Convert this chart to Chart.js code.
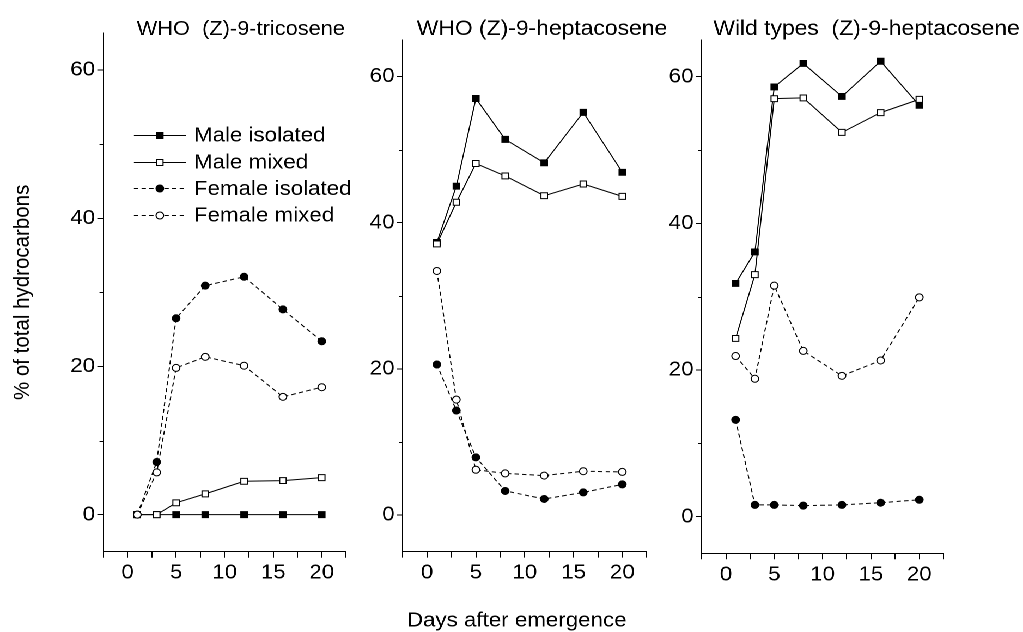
<!DOCTYPE html>
<html>
<head>
<meta charset="utf-8">
<script src="https://cdn.jsdelivr.net/npm/chart.js@4.4.1/dist/chart.umd.min.js"></script>
<style>
html, body { margin: 0; padding: 0; background: #fff; overflow: hidden; }
#wrap { position: absolute; left: 0; top: 0; width: 939px; height: 632px; transform: scaleX(1.0895); transform-origin: 0 0; }
canvas { position: absolute; top: 0; }
</style>
</head>
<body>
<div id="wrap">
  <canvas id="c1" width="340" height="632" style="left:0px;width:340px;height:632px"></canvas>
  <canvas id="c2" width="304" height="632" style="left:320px;width:304px;height:632px"></canvas>
  <canvas id="c3" width="345" height="632" style="left:594px;width:345px;height:632px"></canvas>
</div>
<script>
// ---------------- data ----------------
const days = [1, 3, 5, 8, 12, 16, 20];
const seriesNames = ['Male isolated', 'Male mixed', 'Female isolated', 'Female mixed'];
const panelTitles = ['WHO  (Z)-9-tricosene', 'WHO (Z)-9-heptacosene', 'Wild types  (Z)-9-heptacosene'];
const xAxisTitle = 'Days after emergence';
const yAxisTitle = '% of total hydrocarbons';
const xTickLabels = [0, 5, 10, 15, 20];
const xMinorTicks = [-2.5, 2.5, 7.5, 12.5, 17.5, 22.5];
const yTickLabels = [0, 20, 40, 60];
const yMinorTicks = [10, 30, 50];

// WHO (Z)-9-tricosene
const who23MaleIsolated   = [0, 0, 0, 0, 0, 0, 0];
const who23MaleMixed      = [0, 0, 1.6, 2.8, 4.5, 4.6, 5.0];
const who23FemaleIsolated = [0, 7.1, 26.5, 30.9, 32.1, 27.7, 23.4];
const who23FemaleMixed    = [0, 5.7, 19.8, 21.3, 20.1, 15.9, 17.2];

// WHO (Z)-9-heptacosene
const who27MaleIsolated   = [37.3, 45.0, 57.0, 51.4, 48.2, 55.1, 46.9];
const who27MaleMixed      = [37.1, 42.8, 48.1, 46.4, 43.7, 45.3, 43.6];
const who27FemaleIsolated = [20.6, 14.3, 7.9, 3.3, 2.2, 3.1, 4.2];
const who27FemaleMixed    = [33.4, 15.8, 6.2, 5.7, 5.4, 6.0, 5.9];

// Wild types (Z)-9-heptacosene
const wt27MaleIsolated    = [31.8, 36.1, 58.6, 61.8, 57.3, 62.1, 56.1];
const wt27MaleMixed       = [24.3, 33.0, 57.0, 57.1, 52.4, 55.1, 56.9];
const wt27FemaleIsolated  = [13.2, 1.6, 1.6, 1.5, 1.6, 1.9, 2.3];
const wt27FemaleMixed     = [21.9, 18.8, 31.5, 22.6, 19.2, 21.3, 29.9];

// ---------------- styles ----------------
const FONT = '"Liberation Sans", Arial, Helvetica, sans-serif';
const FS = 20.5;
Chart.defaults.font.family = FONT;
Chart.defaults.color = '#000';

const seriesStyles = [
  { pointStyle: 'rect',   radius: 4.2, fill: '#000', dash: [],     order: 4 },
  { pointStyle: 'rect',   radius: 4.2, fill: '#fff', dash: [],     order: 3 },
  { pointStyle: 'circle', radius: 3.5, fill: '#000', dash: [4, 3], order: 2 },
  { pointStyle: 'circle', radius: 3.5, fill: '#fff', dash: [4, 3], order: 1 }
];

const xAllTicks = xTickLabels.concat(xMinorTicks).sort((a, b) => a - b);

// ---------------- plugins ----------------
const minorTickPlugin = {
  id: 'minorTicks',
  afterDraw(chart) {
    const ys = chart.scales.y, ctx = chart.ctx;
    ctx.save();
    ctx.strokeStyle = '#000';
    ctx.lineWidth = 1;
    ctx.beginPath();
    for (const v of yMinorTicks) {
      const py = Math.round(ys.getPixelForValue(v)) + 0.5;
      ctx.moveTo(ys.right - 3.5, py);
      ctx.lineTo(ys.right, py);
    }
    ctx.stroke();
    ctx.restore();
  }
};

const textPlugin = {
  id: 'panelText',
  afterDraw(chart, args, opts) {
    const items = opts.items || [];
    const ctx = chart.ctx;
    for (let i = 0; i < items.length; i++) {
      const t = items[i];
      ctx.save();
      ctx.font = t.size + 'px ' + FONT;
      ctx.fillStyle = '#000';
      ctx.textAlign = t.align || 'left';
      ctx.textBaseline = 'alphabetic';
      ctx.fillText(t.text, t.x, t.y);
      ctx.restore();
    }
  }
};

function drawMarker(ctx, st, x, y) {
  ctx.fillStyle = st.fill;
  ctx.strokeStyle = '#000';
  ctx.lineWidth = 1;
  if (Chart.helpers && Chart.helpers.drawPoint) {
    Chart.helpers.drawPoint(ctx, { pointStyle: st.pointStyle, radius: st.radius, borderWidth: 1, rotation: 0 }, x, y);
  } else {
    ctx.beginPath();
    if (st.pointStyle === 'rect') {
      const s = st.radius * Math.SQRT1_2;
      ctx.rect(x - s, y - s, 2 * s, 2 * s);
    } else {
      ctx.arc(x, y, st.radius, 0, Math.PI * 2);
    }
    ctx.fill();
    ctx.stroke();
  }
}

const legendPlugin = {
  id: 'insetLegend',
  afterDraw(chart, args, opts) {
    if (!opts.display) return;
    const ctx = chart.ctx;
    seriesNames.forEach((name, i) => {
      const st = seriesStyles[i];
      const yb = opts.baselines[i];
      const ym = Math.round(yb - opts.markerRise) + 0.5;
      ctx.save();
      ctx.strokeStyle = '#000';
      ctx.lineWidth = 1;
      ctx.setLineDash(st.dash);
      ctx.beginPath();
      ctx.moveTo(opts.x1, ym);
      ctx.lineTo(opts.x2, ym);
      ctx.stroke();
      ctx.setLineDash([]);
      drawMarker(ctx, st, opts.xm, ym);
      ctx.fillStyle = '#000';
      ctx.font = FS + 'px ' + FONT;
      ctx.textAlign = 'left';
      ctx.textBaseline = 'alphabetic';
      ctx.fillText(name, opts.xt, yb);
      ctx.restore();
    });
  }
};

// ---------------- chart factory ----------------
function makeDatasets(series) {
  return series.map((vals, i) => {
    const st = seriesStyles[i];
    return {
      label: seriesNames[i],
      data: days.map((d, k) => ({ x: d, y: vals[k] })),
      showLine: true,
      tension: 0,
      borderColor: '#000',
      borderWidth: 1,
      borderDash: st.dash,
      pointStyle: st.pointStyle,
      pointRadius: st.radius,
      pointBackgroundColor: st.fill,
      pointBorderColor: '#000',
      pointBorderWidth: 1,
      order: st.order
    };
  });
}

function makeChart(id, series, lay) {
  return new Chart(document.getElementById(id), {
    type: 'scatter',
    data: { datasets: makeDatasets(series) },
    options: {
      responsive: false,
      maintainAspectRatio: false,
      devicePixelRatio: 2,
      animation: false,
      events: [],
      layout: { padding: lay.padding, autoPadding: false },
      scales: {
        x: {
          type: 'linear', min: -2.5, max: 22.5,
          afterBuildTicks: s => { s.ticks = xAllTicks.map(v => ({ value: v })); },
          afterFit: s => { s.height = lay.xHeight; },
          ticks: {
            autoSkip: false, maxRotation: 0, minRotation: 0, padding: 3,
            color: '#000', font: { size: FS },
            callback: v => (xTickLabels.indexOf(v) >= 0 ? String(v) : '')
          },
          grid: { drawOnChartArea: false, drawTicks: true, tickLength: 6, tickColor: '#000', color: '#000' },
          border: { display: true, color: '#000', width: 1 }
        },
        y: {
          type: 'linear', min: -5, max: 65,
          afterBuildTicks: s => { s.ticks = yTickLabels.map(v => ({ value: v })); },
          afterFit: s => { s.width = lay.yWidth; },
          ticks: { padding: 2, color: '#000', font: { size: FS }, callback: v => String(v) },
          grid: { drawOnChartArea: false, drawTicks: true, tickLength: 5.5, tickColor: '#000', color: '#000' },
          border: { display: true, color: '#000', width: 1 },
          title: lay.yTitle ? {
            display: true, text: yAxisTitle, color: '#000',
            font: { size: FS }, padding: { top: 8.4, bottom: 0 }
          } : { display: false }
        }
      },
      plugins: {
        legend: { display: false },
        tooltip: { enabled: false },
        panelText: { items: lay.texts },
        insetLegend: lay.legend || { display: false }
      }
    },
    plugins: [minorTickPlugin, textPlugin, legendPlugin]
  });
}

makeChart('c1',
  [who23MaleIsolated, who23MaleMixed, who23FemaleIsolated, who23FemaleMixed],
  {
    padding: { left: 0, right: 22.4, top: 33, bottom: 40.3 },
    yWidth: 94.8, xHeight: 40, yTitle: true,
    texts: [{ text: panelTitles[0], x: 125.5, y: 35, size: 20 }],
    legend: { display: true, x1: 122.9, x2: 170.6, xm: 146.7, xt: 178, markerRise: 6.7,
              baselines: [141.7, 168.3, 195, 221.7] }
  });

makeChart('c2',
  [who27MaleIsolated, who27MaleMixed, who27FemaleIsolated, who27FemaleMixed],
  {
    padding: { left: 0, right: 30.4, top: 40, bottom: 40.4 },
    yWidth: 49.6, xHeight: 40, yTitle: false,
    texts: [
      { text: panelTitles[1], x: 62.5, y: 35, size: 21 },
      { text: xAxisTitle, x: 154.3, y: 626.4, size: 20.5, align: 'center' }
    ]
  });

makeChart('c3',
  [wt27MaleIsolated, wt27MaleMixed, wt27FemaleIsolated, wt27FemaleMixed],
  {
    padding: { left: 0, right: 73, top: 40, bottom: 38.7 },
    yWidth: 50.1, xHeight: 40, yTitle: false,
    texts: [{ text: panelTitles[2], x: 60.7, y: 35, size: 21 }]
  });
</script>
</body>
</html>
